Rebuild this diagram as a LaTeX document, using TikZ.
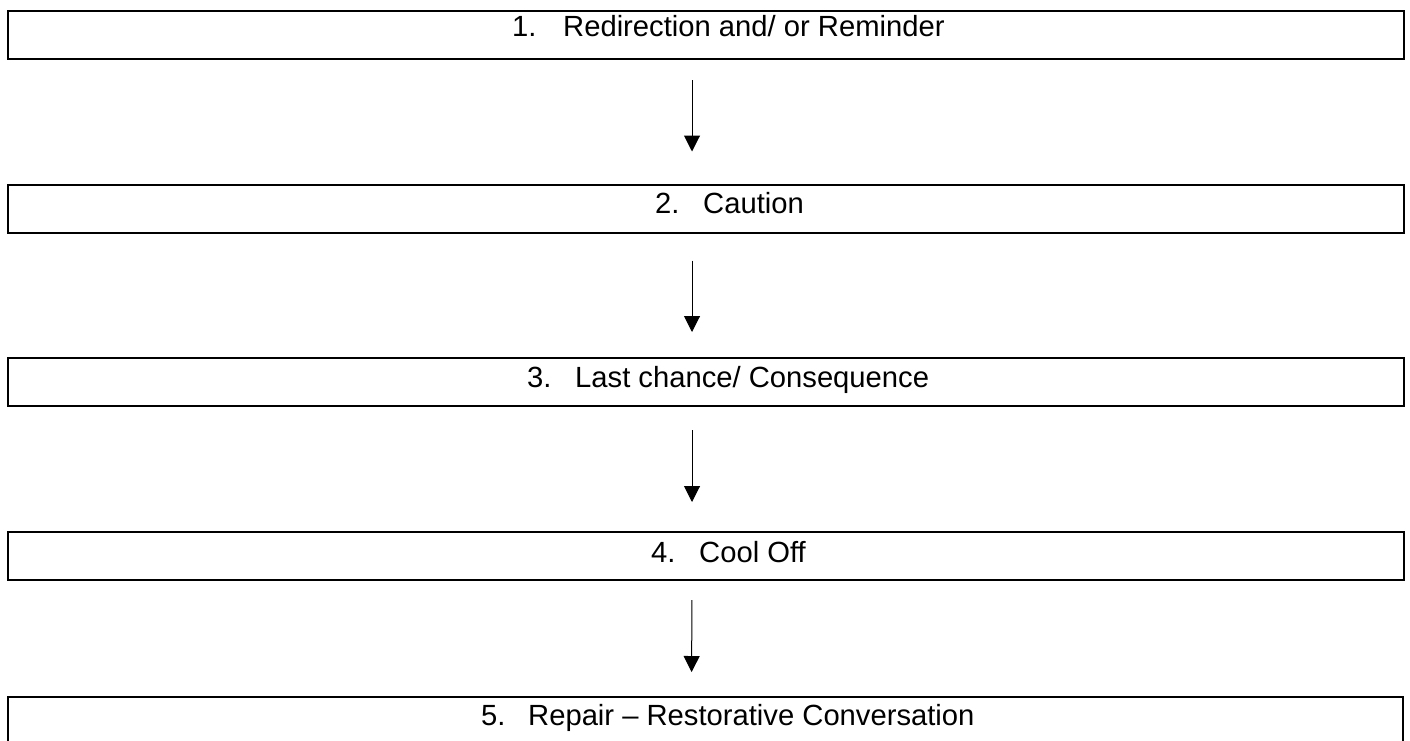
\documentclass[tikz,border=0pt]{standalone}
\usepackage{fontspec}
\setmainfont{Liberation Sans}
\usetikzlibrary{arrows.meta}
\begin{document}
\begin{tikzpicture}[x=1pt,y=-1pt,
  box/.style={draw=black, line width=2pt, minimum height=48pt, inner sep=0pt, outer sep=0pt},
  lbl/.style={anchor=base west, inner sep=0pt, font=\fontsize{29.2}{35}\selectfont},
  flow/.style={line width=1pt, -{Triangle[width=16pt,length=16pt]}}]
\useasboundingbox (0,0) rectangle (1410,740);
\clip (0,0) rectangle (1410,740);
\node[box, minimum width=1396pt] (b1) at (706,35) {};
\node[box, minimum width=1396pt] (b2) at (706,208.5) {};
\node[box, minimum width=1396pt] (b3) at (706,382) {};
\node[box, minimum width=1396pt] (b4) at (706,556) {};
\node[box, minimum width=1395pt] (b5) at (705.5,721) {};
\node[lbl] (n1) at (512,36) {1.};
\node[lbl] (t1) at (563,36) {Redirection and/ or Reminder};
\node[lbl] (n2) at (655,213) {2.};
\node[lbl] (t2) at (703,213) {Caution};
\node[lbl] (n3) at (527,387) {3.};
\node[lbl] (t3) at (575,387) {Last chance/ Consequence};
\node[lbl] (n4) at (651,562) {4.};
\node[lbl] (t4) at (699,562) {Cool Off};
\node[lbl] (n5) at (481,725) {5.};
\node[lbl] (t5) at (528,725) {Repair -- Restorative Conversation};
\draw[flow, shorten <=21pt, shorten >=33pt] ([xshift=-14pt]b1.south) -- ([xshift=-14pt]b2.north);
\draw[flow, shorten <=28pt, shorten >=26pt] ([xshift=-14pt]b2.south) -- ([xshift=-14pt]b3.north);
\draw[flow, shorten <=24pt, shorten >=30pt] ([xshift=-14pt]b3.south) -- ([xshift=-14pt]b4.north);
\draw[flow, shorten <=20pt, shorten >=25pt] ([xshift=-14pt]b4.south) -- ([xshift=-14pt]b5.north);
\end{tikzpicture}
\end{document}
